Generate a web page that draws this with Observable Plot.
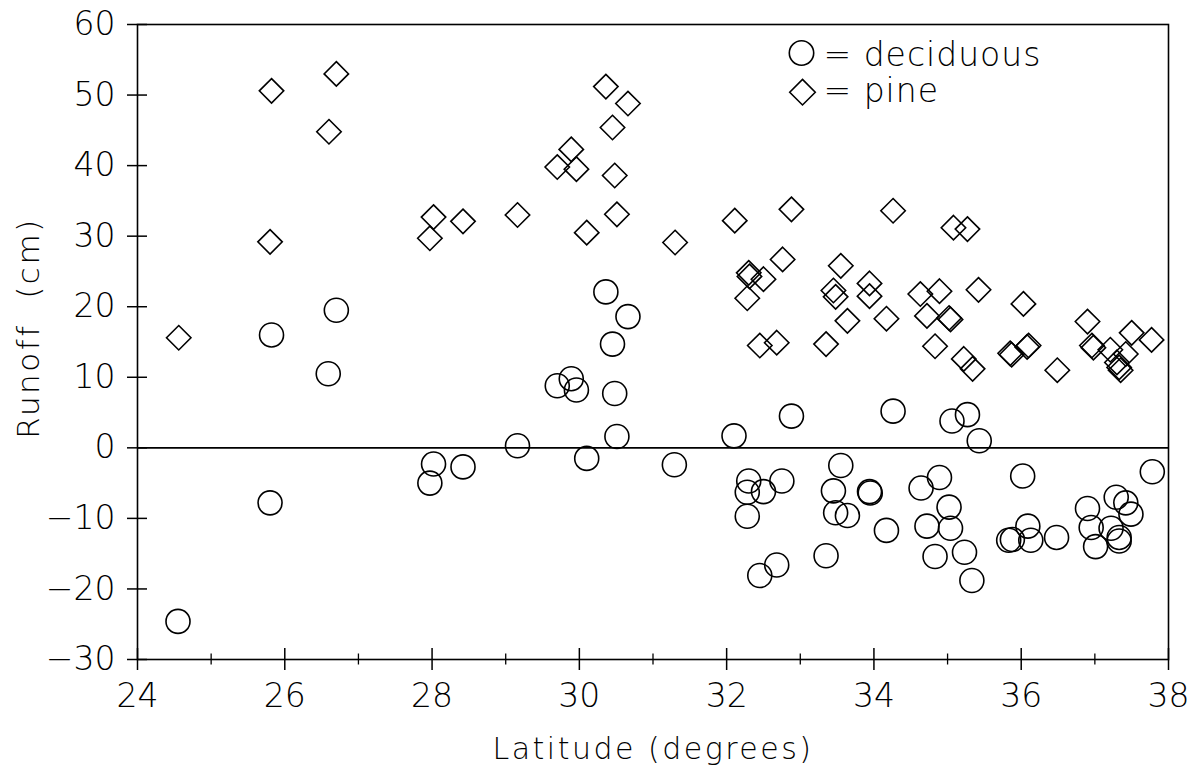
<!DOCTYPE html>
<html>
<head>
<meta charset="utf-8">
<script src="https://cdn.jsdelivr.net/npm/d3@7"></script>
<script src="https://cdn.jsdelivr.net/npm/@observablehq/plot@0.6"></script>
<style>
  html, body { margin: 0; padding: 0; background: #fff; }
  #chart { width: 1199px; height: 768px; }
</style>
</head>
<body>
<div id="chart"></div>
<script>
// Deciduous sites: [latitude (deg), runoff (cm)]
const deciduous = [
  [24.55,-24.6],[25.80,-7.8],[25.82,16.0],[26.59,10.5],[26.70,19.5],
  [27.97,-5.0],[28.02,-2.3],[28.42,-2.7],[29.16,0.3],[29.70,8.8],
  [29.89,9.8],[29.96,8.2],[30.10,-1.5],[30.36,22.1],[30.45,14.7],
  [30.48,7.7],[30.51,1.6],[30.66,18.6],[31.29,-2.4],[32.10,1.7],
  [32.28,-6.3],[32.30,-4.7],[32.28,-9.7],[32.45,-18.1],[32.50,-6.2],
  [32.68,-16.6],[32.75,-4.7],[32.88,4.5],[33.35,-15.3],[33.45,-6.1],
  [33.48,-9.2],[33.55,-2.5],[33.64,-9.6],[33.94,-6.2],[33.95,-6.4],
  [34.17,-11.7],[34.26,5.2],[34.64,-5.7],[34.72,-11.1],[34.83,-15.4],
  [34.89,-4.2],[35.02,-8.4],[35.04,-11.4],[35.06,3.8],[35.23,-14.8],
  [35.27,4.7],[35.33,-18.8],[35.43,1.0],[35.83,-13.1],[35.88,-13.0],
  [36.02,-4.0],[36.09,-11.1],[36.13,-13.1],[36.48,-12.7],[36.90,-8.6],
  [36.95,-11.3],[37.01,-14.0],[37.22,-11.4],[37.29,-7.0],[37.33,-12.7],
  [37.33,-13.2],[37.42,-7.8],[37.49,-9.4],[37.78,-3.4]
];
// Pine sites: [latitude (deg), runoff (cm)]
const pine = [
  [24.56,15.6],[25.80,29.2],[25.82,50.6],[26.60,44.8],[26.70,53.0],
  [27.97,29.7],[28.02,32.7],[28.42,32.1],[29.16,33.0],[29.70,39.8],
  [29.89,42.3],[29.96,39.5],[30.10,30.5],[30.36,51.2],[30.45,45.4],
  [30.48,38.6],[30.51,33.1],[30.66,48.8],[31.30,29.1],[32.11,32.2],
  [32.28,21.2],[32.30,24.8],[32.31,24.3],[32.45,14.5],[32.50,23.9],
  [32.68,14.9],[32.76,26.7],[32.88,33.8],[33.35,14.7],[33.45,22.3],
  [33.48,21.4],[33.55,25.8],[33.64,18.0],[33.94,23.3],[33.94,21.5],
  [34.17,18.3],[34.26,33.6],[34.63,21.8],[34.72,18.7],[34.83,14.4],
  [34.89,22.2],[35.02,18.4],[35.04,18.2],[35.08,31.2],[35.22,12.6],
  [35.27,31.0],[35.34,11.2],[35.42,22.4],[35.85,13.4],[35.87,13.2],
  [36.03,20.4],[36.10,14.5],[36.08,14.3],[36.49,11.0],[36.90,17.9],
  [36.96,14.5],[36.98,14.2],[37.21,13.9],[37.30,12.1],[37.33,11.4],
  [37.35,11.0],[37.42,13.3],[37.50,16.3],[37.77,15.3]
];
const xMajorTicks = [24, 26, 28, 30, 32, 34, 36, 38];
const xMinorTicks = [25, 27, 29, 31, 33, 35, 37];
const yTicks = [-30, -20, -10, 0, 10, 20, 30, 40, 50, 60];
const xLabel = "Latitude (degrees)";
const yLabel = "Runoff\u00A0\u00A0(cm)";
const legendDeciduous = "= deciduous";
const legendPine = "= pine";

const W = 1199, H = 768;
const mL = 137, mR = 31, mT = 24, mB = 109;
const pw = W - mL - mR, ph = H - mT - mB;
const fmt = d => d < 0 ? "\u2212" + (-d) : String(d);
const ink = "#000";

const chart = Plot.plot({
  width: W, height: H,
  marginLeft: mL, marginRight: mR, marginTop: mT, marginBottom: mB,
  x: {domain: [24, 38]},
  y: {domain: [-30, 60]},
  style: {fontFamily: "'DejaVu Sans ExtraLight', 'DejaVu Sans', sans-serif", fontWeight: 200, background: "#fff", color: ink, overflow: "visible"},
  marks: [
    Plot.frame({stroke: ink, strokeWidth: 1.6}),
    Plot.ruleY([0], {stroke: ink, strokeWidth: 1.6}),
    Plot.tickY(yTicks, {y: d => d, insetLeft: -10, insetRight: pw - 10, stroke: ink, strokeWidth: 1.5}),
    Plot.tickX(xMajorTicks, {x: d => d, insetTop: ph - 11, insetBottom: -11, stroke: ink, strokeWidth: 1.5}),
    Plot.tickX(xMinorTicks, {x: d => d, insetTop: ph - 5.5, insetBottom: -5.5, stroke: ink, strokeWidth: 1.3}),
    Plot.axisY(yTicks, {tickSize: 0, tickPadding: 22, fontSize: 33, tickFormat: fmt, label: null}),
    Plot.axisX(xMajorTicks, {tickSize: 0, tickPadding: 24, fontSize: 33, tickFormat: fmt, label: null}),
    Plot.text([xLabel], {frameAnchor: "bottom", text: d => d, dy: 99, lineAnchor: "bottom", textAnchor: "middle", fontSize: 30, fill: ink}),
    Plot.text([yLabel], {frameAnchor: "left", text: d => d, rotate: -90, dx: -99, dy: -14, lineAnchor: "bottom", textAnchor: "middle", fontSize: 31, fill: ink}),
    Plot.dot(deciduous, {x: d => d[0], y: d => d[1], r: 12, symbol: "circle", stroke: ink, strokeWidth: 1.6, fill: "none"}),
    Plot.dot(pine, {x: d => d[0], y: d => d[1], r: 11, symbol: "diamond2", stroke: ink, strokeWidth: 1.6, fill: "none"}),
    // legend
    Plot.dot([legendDeciduous], {frameAnchor: "top-left", dx: 664, dy: 28.5, r: 12.2, symbol: "circle", stroke: ink, strokeWidth: 1.6, fill: "none"}),
    Plot.dot([legendPine], {frameAnchor: "top-left", dx: 665, dy: 67.7, r: 11.5, symbol: "diamond2", stroke: ink, strokeWidth: 1.6, fill: "none"}),
    Plot.text([legendDeciduous], {frameAnchor: "top-left", text: d => d, dx: 686, dy: 41, textAnchor: "start", lineAnchor: "bottom", fontSize: 33, fill: ink}),
    Plot.text([legendPine], {frameAnchor: "top-left", text: d => d, dx: 686, dy: 77.7, textAnchor: "start", lineAnchor: "bottom", fontSize: 33, fill: ink})
  ]
});

d3.select(chart).selectAll("text").each(function() {
  const t = this.textContent;
  if (t === xLabel || t === yLabel) this.style.letterSpacing = "2.5px";
  if (t === legendDeciduous || t === legendPine) this.style.letterSpacing = "1px";
});

document.getElementById("chart").appendChild(chart);
</script>
</body>
</html>
